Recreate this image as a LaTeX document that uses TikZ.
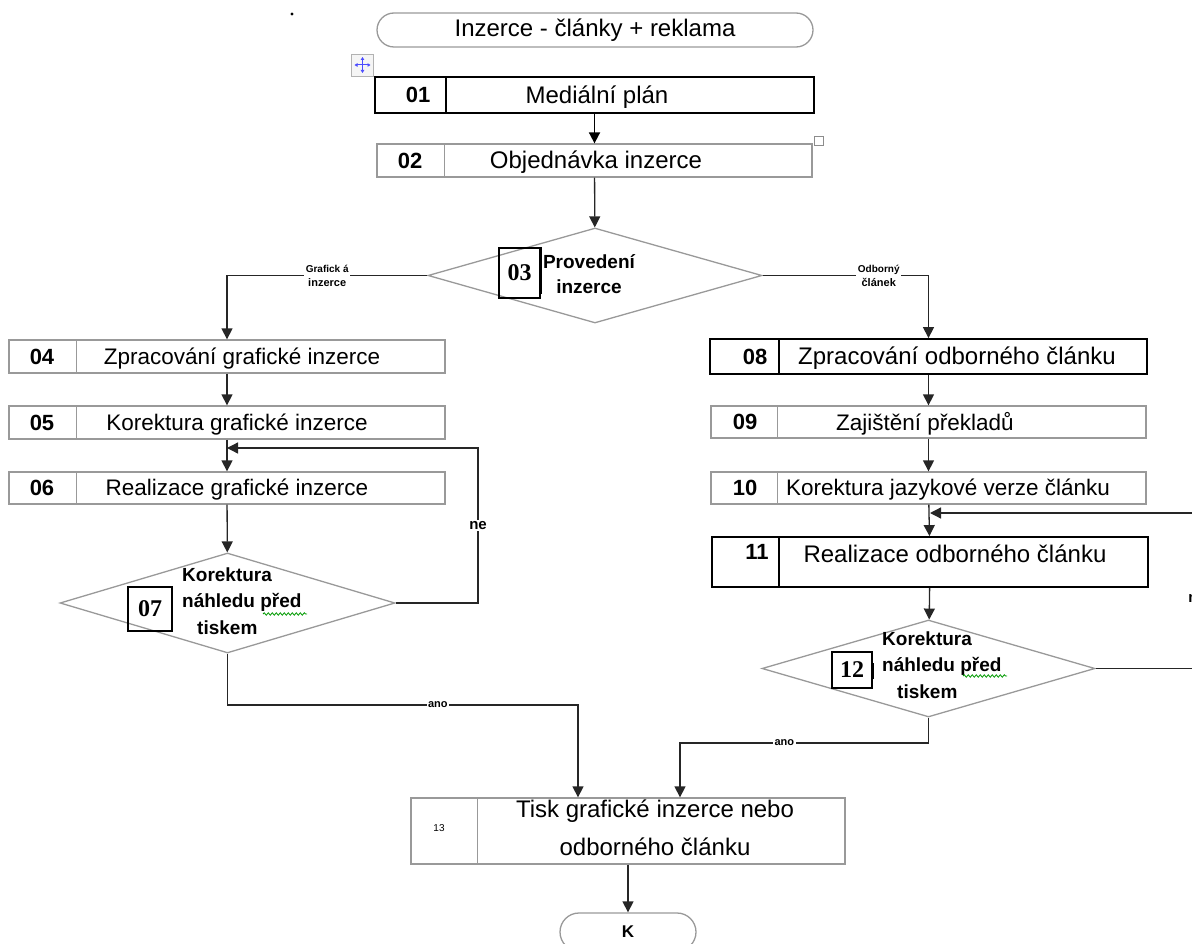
\documentclass[tikz,border=0pt]{standalone}
\usepackage{fontspec}
\setmainfont{Liberation Sans}
\newfontfamily\numserif{Liberation Serif}
\usetikzlibrary{shapes.geometric,arrows.meta,decorations.pathmorphing}

\tikzset{
  >={Triangle[length=11pt,width=11pt]},
  flow/.style={draw=black!85,line width=1.3pt},
  stepbox/.style={draw=black!40,line width=1.3pt,inner sep=0pt,minimum width=436pt,minimum height=33pt},
  heavy/.style={draw=black,line width=1.8pt},
  terminal/.style={draw=black!40,line width=1.3pt,rounded corners=17pt,inner sep=0pt,minimum width=436pt,minimum height=34pt,font=\fontsize{24}{28}\selectfont},
  decision/.style={diamond,draw=black!40,line width=1.3pt,inner sep=0pt},
  steptext/.style={inner sep=0pt,yshift=-2pt,font=\fontsize{22.5}{26}\selectfont},
  bigtext/.style={steptext,font=\fontsize{24}{28}\selectfont},
  numtext/.style={inner sep=0pt,font=\bfseries\fontsize{22}{26}\selectfont},
  numbox/.style={draw=black,line width=1.6pt,inner sep=0pt,font=\numserif\bfseries\fontsize{24}{26}\selectfont},
  asktext/.style={inner sep=0pt,align=left,anchor=west,font=\bfseries\fontsize{19}{26.5}\selectfont},
  lbl/.style={fill=white,inner sep=1.5pt,align=center,font=\bfseries\fontsize{11}{14}\selectfont},
  wavy/.style={draw=green!60!black,line width=0.8pt,decorate,decoration={snake,amplitude=1.2pt,segment length=4pt}}
}

\begin{document}
\begin{tikzpicture}[x=1pt,y=1pt,yscale=-1,xscale=1]
\useasboundingbox (0,0) rectangle (1192,944);
\clip (0,0) rectangle (1192,944);

%Shape: Dot
\fill (292,14) circle (1.6);
%Shape: Move handle
\node[draw=black!30,fill=black!4,minimum size=22pt,inner sep=0pt] (mv) at (362.5,65) {};
\draw[blue!70,line width=1pt,{Triangle[length=3pt,width=3.5pt]}-{Triangle[length=3pt,width=3.5pt]}] (mv.center) ++(-8,0) -- ++(16,0);
\draw[blue!70,line width=1pt,{Triangle[length=3pt,width=3.5pt]}-{Triangle[length=3pt,width=3.5pt]}] (mv.center) ++(0,-8) -- ++(0,16);

%Shape: Terminal start
\node[terminal] (start) at (595,30) {Inzerce - články + reklama};

%Shape: Rectangle 01
\node[stepbox,heavy,minimum width=439pt,minimum height=36pt] (b01) at (594.5,95) {};
\draw[heavy] ([xshift=72pt]b01.north west) -- ([xshift=72pt]b01.south west);
\node[numtext] (n01) at (418,95) {01};
\node[bigtext] (t01) at (597,95) {Mediální plán};
%Shape: Rectangle 02
\node[stepbox,minimum width=435pt] (b02) at (594.5,160.5) {};
\draw[stepbox] ([xshift=68pt]b02.north west) -- ([xshift=68pt]b02.south west);
\node[numtext] (n02) at (410,160.5) {02};
\node[bigtext] (t02) at (596,160.5) {Objednávka inzerce};
\node[draw=black!45,fill=white,line width=1pt,minimum size=9pt,inner sep=0pt] (hd) at (818.5,141) {};

%Shape: Diamond 03
\node[decision,minimum width=334pt,minimum height=95pt] (d03) at (595,275.5) {};
\node[numbox,minimum width=41pt,minimum height=50pt] (n03) at (519.5,273) {03};
\draw[numbox] (n03.north east) -- ([yshift=-5pt]n03.south east);
\node[inner sep=0pt,align=center,font=\bfseries\fontsize{19}{25}\selectfont] (t03) at (589,274) {Provedení\\inzerce};

%Shape: Left column
\node[stepbox] (b04) at (227,356.5) {};
\draw[stepbox] ([xshift=68pt]b04.north west) -- ([xshift=68pt]b04.south west);
\node[numtext] (n04) at (42,356.5) {04};
\node[steptext] (t04) at (242,356.5) {Zpracování grafické inzerce};

\node[stepbox] (b05) at (227,422.5) {};
\draw[stepbox] ([xshift=68pt]b05.north west) -- ([xshift=68pt]b05.south west);
\node[numtext] (n05) at (42,422.5) {05};
\node[steptext] (t05) at (237,422.5) {Korektura grafické inzerce};

\node[stepbox,minimum height=32pt] (b06) at (227,488) {};
\draw[stepbox] ([xshift=68pt]b06.north west) -- ([xshift=68pt]b06.south west);
\node[numtext] (n06) at (42,488) {06};
\node[steptext] (t06) at (237,488) {Realizace grafické inzerce};

%Shape: Diamond 07
\node[decision,minimum width=335pt,minimum height=100pt] (d07) at (227.5,603) {};
\node[numbox,minimum size=44pt] (n07) at (150,609) {07};
\node[asktext] (t07) at (182,601) {Korektura\\náhledu před\\\hspace*{15pt}tiskem};
\draw[wavy] (263,614) -- (307,614);

%Shape: Right column
\node[stepbox,heavy,minimum width=437pt,minimum height=35pt] (b08) at (928.5,356.5) {};
\draw[heavy] ([xshift=70pt]b08.north west) -- ([xshift=70pt]b08.south west);
\node[numtext] (n08) at (755,356.5) {08};
\node[bigtext] (t08) at (957,356.5) {Zpracování odborného článku};

\node[stepbox,minimum width=435pt,minimum height=32pt] (b09) at (928.5,422) {};
\draw[stepbox] ([xshift=67pt]b09.north west) -- ([xshift=67pt]b09.south west);
\node[numtext] (n09) at (745,422) {09};
\node[steptext] (t09) at (925,422) {Zajištění překladů};

\node[stepbox,minimum width=435pt,minimum height=32pt] (b10) at (928.5,488) {};
\draw[stepbox] ([xshift=67pt]b10.north west) -- ([xshift=67pt]b10.south west);
\node[numtext] (n10) at (745,488) {10};
\node[steptext] (t10) at (948,488) {Korektura jazykové verze článku};

\node[stepbox,heavy,minimum width=436pt,minimum height=50pt] (b11) at (930,562) {};
\draw[heavy] ([xshift=68pt]b11.north west) -- ([xshift=68pt]b11.south west);
\node[numtext] (n11) at (757,552) {11};
\node[bigtext] (t11) at (955,552) {Realizace odborného článku};

%Shape: Diamond 12
\node[decision,minimum width=333pt,minimum height=97pt] (d12) at (928.5,668.5) {};
\node[numbox,minimum width=40pt,minimum height=36pt] (n12) at (852,670) {12};
\draw[numbox] ([yshift=12pt]n12.north east) -- ([yshift=-10pt]n12.south east);
\node[asktext] (t12) at (882,665) {Korektura\\náhledu před\\\hspace*{15pt}tiskem};
\draw[wavy] (963,676) -- (1007,676);

%Shape: Rectangle 13
\node[stepbox,minimum width=434pt,minimum height=66pt] (b13) at (628,831) {};
\draw[stepbox] ([xshift=67pt]b13.north west) -- ([xshift=67pt]b13.south west);
\node[inner sep=0pt,font=\fontsize{10}{12}\selectfont] (n13) at (439,828) {13};
\node[steptext,align=center,font=\fontsize{24}{38}\selectfont] (t13) at (655,826) {Tisk grafické inzerce nebo\\odborného článku};

%Shape: Terminal end
\node[terminal,minimum width=136pt,minimum height=38pt,rounded corners=19pt,font=\bfseries\fontsize{17}{20}\selectfont] (kend) at (628,932) {K};

%Connectors
\coordinate (ne07) at (478,448);
\coordinate (ano07) at (578,705);
\coordinate (ne12) at (1197,513);
\coordinate (ano12) at (680,743);

\draw[flow,heavy,->] (b01) -- (b02);
\draw[flow,->] (b02) -- (d03);
\draw[flow,->] (d03.west) -- node[lbl,midway] (lg) {\fontsize{10}{13}\selectfont Grafick á\\inzerce} (d03.west -| b04) -- (b04);
\draw[flow,->] (d03.east) -- node[lbl,pos=0.7] (lo) {\fontsize{10}{13}\selectfont Odborný\\článek} (d03.east -| b08) -- (b08);

\draw[flow,->] (b04) -- (b05);
\draw[flow,->] (b05) -- (b06);
\draw[flow,->] (b06) -- (d07);
\draw[flow,->] (d07.east) -| node[lbl,pos=0.75,font=\bfseries\fontsize{15}{18}\selectfont] (l07ne) {ne} (ne07) -- (ne07 -| b06.north);
\draw[flow,->] (d07.south) |- node[lbl,pos=0.8] (l07ano) {ano} (ano07) -- (ano07 |- b13.north);

\draw[flow,->] (b08) -- (b09);
\draw[flow,->] (b09) -- (b10);
\draw[flow,->] (b10) -- (b11);
\draw[flow,->] (b11) -- (d12);
\draw[flow,->] (d12.east) -| node[lbl,pos=0.726,font=\bfseries\fontsize{15}{18}\selectfont] (l12ne) {ne} (ne12) -- (ne12 -| b11.north);
\draw[flow,->] (d12.south) |- node[lbl,pos=0.79] (l12ano) {ano} (ano12) -- (ano12 |- b13.north);

\draw[flow,->] (b13) -- (kend);

\end{tikzpicture}
\end{document}
